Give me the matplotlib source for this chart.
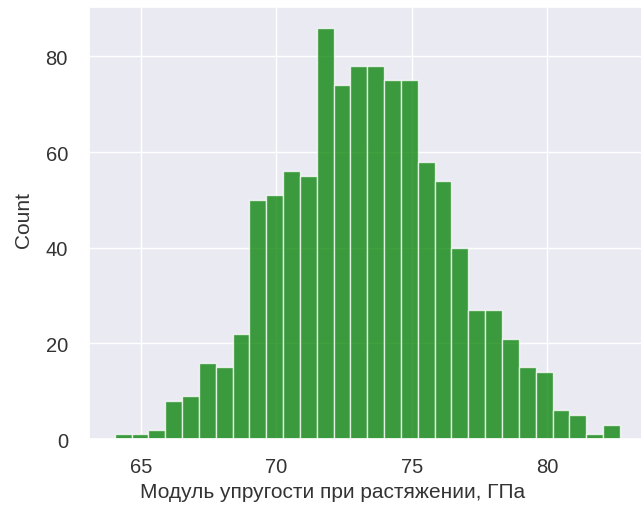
import numpy as np
import matplotlib
matplotlib.use("Agg")
import matplotlib.pyplot as plt
import seaborn as sns

# Histogram data (counts per bin)
counts = [1, 1, 2, 8, 9, 16, 15, 22, 50, 51, 56, 55, 86, 74, 78,
          78, 75, 75, 58, 54, 40, 27, 27, 21, 15, 14, 6, 5, 1, 3]
x_min = 64.04
x_max = 82.68
xticks = [65, 70, 75, 80]
yticks = [0, 20, 40, 60, 80]
xlabel = "Модуль упругости при растяжении, ГПа"
ylabel = "Count"

sns.set_theme(style="darkgrid")
plt.rcParams["font.family"] = ["Liberation Sans", "DejaVu Sans"]

fig = plt.figure(figsize=(6.41, 5.10), dpi=100)
ax = fig.add_axes([0.1395, 0.137, 0.867, 0.847])

edges = np.linspace(x_min, x_max, len(counts) + 1)
widths = np.diff(edges)
ax.bar(edges[:-1], counts, width=widths, align="edge",
       color="green", alpha=0.75, edgecolor="white", linewidth=1.0)

ax.set_xticks(xticks)
ax.set_yticks(yticks)
ax.tick_params(labelsize=14.5, colors="#333333")
ax.tick_params(axis="x", pad=7)
ax.tick_params(axis="y", pad=9.5)
ax.set_xlabel(xlabel, fontsize=15, color="#333333")
ax.set_ylabel(ylabel, fontsize=15, color="#333333")
ax.xaxis.set_label_coords(0.437, -0.1)
ax.yaxis.set_label_coords(-0.102, 0.51)
ax.margins(x=0.05)
ax.set_ylim(0, max(counts) * 1.05)

fig.savefig("out.png", dpi=100)
